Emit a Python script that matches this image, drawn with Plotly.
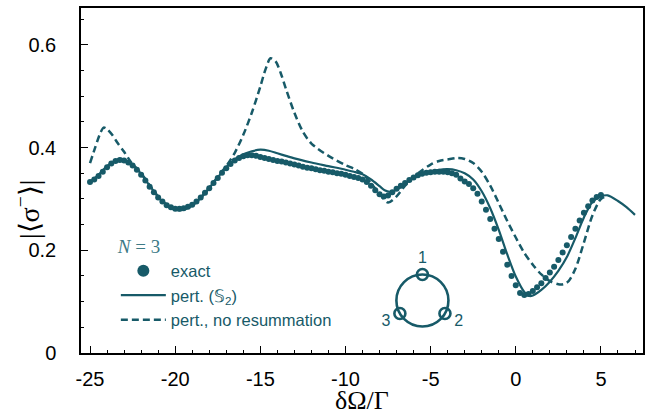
import numpy as np
import plotly.graph_objects as go

TEAL = "#175a68"

# ---------------- data ----------------
exact_x = np.arange(-25.0, 5.0001, 0.25)
exact_y = [
    0.333, 0.338, 0.345, 0.353, 0.362, 0.369, 0.374, 0.376, 0.375, 0.371,
    0.365, 0.357, 0.347, 0.336, 0.324, 0.313, 0.303, 0.295, 0.288, 0.284,
    0.281, 0.281, 0.282, 0.285, 0.289, 0.295, 0.303, 0.312, 0.321, 0.331,
    0.341, 0.351, 0.360, 0.368, 0.375, 0.380, 0.383, 0.385, 0.385, 0.384,
    0.382, 0.380, 0.378, 0.376, 0.374, 0.373, 0.371, 0.369, 0.367, 0.365,
    0.363, 0.361, 0.360, 0.358, 0.356, 0.355, 0.353, 0.352, 0.350, 0.349,
    0.347, 0.345, 0.343, 0.341, 0.338, 0.333, 0.326, 0.317, 0.309, 0.305,
    0.307, 0.313, 0.320, 0.326, 0.331, 0.337, 0.342, 0.346, 0.349, 0.351,
    0.352, 0.353, 0.353, 0.353, 0.352, 0.350, 0.347, 0.340, 0.334, 0.329,
    0.321, 0.310, 0.295, 0.279, 0.261, 0.242, 0.222, 0.197, 0.172, 0.150,
    0.132, 0.117, 0.113, 0.115, 0.121, 0.128, 0.136, 0.146, 0.157, 0.168,
    0.181, 0.196, 0.210, 0.226, 0.242, 0.258, 0.273, 0.286, 0.297, 0.304,
    0.308,
]

pert_x = [-25, -24.5, -24, -23.5, -23.2, -23, -22.5, -22, -21.5, -21, -20.5,
          -20, -19.75, -19.5, -19, -18.5, -18, -17.5, -17, -16.5, -16, -15.5,
          -15, -14.5, -14, -13.5, -13, -12, -11, -10, -9.5, -9, -8.5, -8,
          -7.7, -7.4, -7, -6.5, -6, -5.5, -5, -4.5, -4, -3.5, -3, -2.5, -2,
          -1.5, -1, -0.5, 0, 0.5, 0.8, 1.0, 1.5, 2, 2.5, 3, 3.5, 4, 4.5, 5,
          5.4, 6, 6.5, 7]
pert_y = [0.333, 0.347, 0.364, 0.375, 0.378, 0.377, 0.367, 0.349, 0.326, 0.304,
          0.288, 0.279, 0.278, 0.279, 0.287, 0.302, 0.321, 0.342, 0.362, 0.377,
          0.387, 0.393, 0.396, 0.394, 0.389, 0.384, 0.379, 0.371, 0.364, 0.357,
          0.353, 0.348, 0.338, 0.325, 0.317, 0.314, 0.318, 0.330, 0.341, 0.349,
          0.354, 0.357, 0.358, 0.356, 0.350, 0.338, 0.315, 0.282, 0.240, 0.192,
          0.149, 0.119, 0.111, 0.112, 0.123, 0.139, 0.160, 0.187, 0.224, 0.264,
          0.294, 0.305, 0.307, 0.296, 0.284, 0.269]

nores_x = [-25, -24.7, -24.4, -24.2, -24.0, -23.7, -23.4, -23.0, -22.6, -22,
           -21.5, -21, -20.5, -20, -19.75, -19.5, -19, -18.5, -18, -17.5, -17,
           -16.5, -16, -15.5, -15, -14.7, -14.4, -14.1, -13.8, -13.5, -13,
           -12.5, -12, -11, -10, -9.5, -9, -8.5, -8, -7.5, -7, -6.5, -6, -5.5,
           -5, -4.5, -4, -3.4, -3, -2.5, -2, -1.5, -1, -0.5, 0, 0.5, 1, 1.5,
           2, 2.5, 2.8, 3.1, 3.5, 4, 4.5, 5, 5.4]
nores_y = [0.370, 0.400, 0.428, 0.439, 0.436, 0.425, 0.410, 0.392, 0.372, 0.350,
           0.327, 0.305, 0.289, 0.280, 0.279, 0.280, 0.288, 0.303, 0.322, 0.343,
           0.364, 0.390, 0.425, 0.468, 0.519, 0.552, 0.574, 0.568, 0.545, 0.515,
           0.468, 0.431, 0.408, 0.384, 0.366, 0.359, 0.349, 0.331, 0.310, 0.293,
           0.305, 0.326, 0.343, 0.356, 0.367, 0.374, 0.377, 0.380, 0.378, 0.370,
           0.353, 0.326, 0.292, 0.257, 0.225, 0.195, 0.172, 0.153, 0.140, 0.134,
           0.134, 0.140, 0.164, 0.215, 0.268, 0.300, 0.306]

x_tickvals = [-25, -20, -15, -10, -5, 0, 5]
x_ticktext = ["-25", "-20", "-15", "-10", "-5", "0", "5"]
y_tickvals = [0, 0.2, 0.4, 0.6]
y_ticktext = ["0", "0.2", "0.4", "0.6"]

# inset ring diagram (N = 3 sites)
node_labels = ["1", "2", "3"]
node_angles_deg = [90, -30, 210]
ring_radius = 26
label_radius = [41, 42, 42]

# ---------------- figure ----------------
fig = go.Figure()

fig.add_trace(go.Scatter(
    x=exact_x, y=exact_y, mode="markers",
    marker=dict(color=TEAL, size=6, line=dict(width=0)),
    showlegend=False, hoverinfo="skip"))
fig.add_trace(go.Scatter(
    x=[None], y=[None], mode="markers", name="exact",
    marker=dict(color=TEAL, size=12), legendrank=1))
fig.add_trace(go.Scatter(
    x=pert_x, y=pert_y, mode="lines", name="pert. (𝕊<sub>2</sub>)",
    line=dict(color=TEAL, width=2.2, shape="spline", smoothing=0.8),
    legendrank=2))
fig.add_trace(go.Scatter(
    x=nores_x, y=nores_y, mode="lines", name="pert., no resummation",
    line=dict(color=TEAL, width=2.5, dash="7px,4px", shape="spline", smoothing=0.8),
    legendrank=3))

# inset
ang = np.deg2rad(node_angles_deg)
nx = ring_radius * np.cos(ang)
ny = ring_radius * np.sin(ang)
lx = np.array(label_radius) * np.cos(ang)
ly = np.array(label_radius) * np.sin(ang)

fig.add_shape(type="circle", xref="x2", yref="y2",
              x0=-ring_radius, x1=ring_radius, y0=-ring_radius, y1=ring_radius,
              line=dict(color=TEAL, width=2.6), layer="above")
fig.add_trace(go.Scatter(
    x=nx, y=ny, xaxis="x2", yaxis="y2", mode="markers",
    marker=dict(color="white", size=11, line=dict(color=TEAL, width=2.6)),
    showlegend=False, hoverinfo="skip", cliponaxis=False))
fig.add_trace(go.Scatter(
    x=lx, y=ly, xaxis="x2", yaxis="y2", mode="text", text=node_labels,
    textfont=dict(family="Liberation Sans", size=16, color=TEAL),
    showlegend=False, hoverinfo="skip", cliponaxis=False))

axis_common = dict(showgrid=False, zeroline=False, showline=True, linecolor="black",
                   linewidth=1.5, mirror=True, ticks="inside", ticklen=7,
                   tickwidth=1.2, tickcolor="black", automargin=False,
                   tickfont=dict(family="Liberation Sans", size=20, color="black"))

fig.update_layout(
    width=647, height=416,
    margin=dict(l=81, r=4, t=8, b=63),
    paper_bgcolor="white", plot_bgcolor="white",
    xaxis=dict(range=[-25.53, 7.47], tickvals=x_tickvals, ticktext=x_ticktext,
               minor=dict(ticks="inside", dtick=1, ticklen=3.5, tickwidth=1, tickcolor="black"),
               ticklabelstandoff=7,
               **axis_common),
    yaxis=dict(range=[0, 0.672], tickvals=y_tickvals, ticktext=y_ticktext,
               minor=dict(ticks="inside", dtick=0.05, ticklen=3.5, tickwidth=1, tickcolor="black"),
               ticklabelstandoff=19,
               **axis_common),
    xaxis2=dict(domain=[0.514, 0.701], range=[-52.5, 52.5], anchor="y2", visible=False,
                fixedrange=True),
    yaxis2=dict(domain=[0.052, 0.2986], range=[-34.5, 50.5], anchor="x2", visible=False,
                fixedrange=True),
    legend=dict(x=0.062, y=0.36, xanchor="left", yanchor="top",
                bgcolor="rgba(0,0,0,0)",
                font=dict(family="Liberation Sans", size=16.5, color=TEAL),
                title=dict(text="<i>N</i> = 3",
                           font=dict(family="Liberation Serif", size=19, color="#3d7a86")),
                tracegroupgap=0, itemwidth=45),
    showlegend=True,
    annotations=[
        dict(text="|⟨σ<sup>−</sup>⟩|", xref="paper", yref="paper",
             x=-0.094, y=0.415, xanchor="center", yanchor="middle",
             textangle=-90, showarrow=False,
             font=dict(family="Liberation Serif", size=28, color="black")),
        dict(text="δΩ/Γ", xref="paper", yref="paper",
             x=0.5, y=-0.138, xanchor="center", yanchor="middle",
             showarrow=False,
             font=dict(family="Liberation Serif", size=26, color="black")),
    ],
)

fig.write_html(
    "out.html",
    config={"displayModeBar": False},
    post_script="document.body.style.margin='0';"
                "document.documentElement.style.overflow='hidden';"
                "document.body.style.overflow='hidden';",
)
